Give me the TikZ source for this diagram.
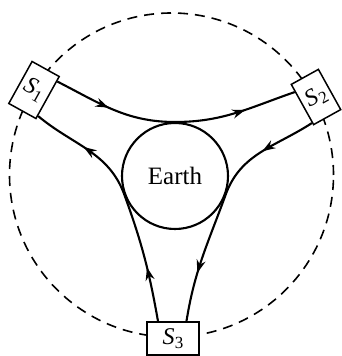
\documentclass[tikz,border=0pt]{standalone}
\usepackage{fontspec}
\setmainfont{Liberation Serif}
\usetikzlibrary{arrows.meta,decorations.markings,calc}
\newcommand\satname[1]{\textit{S}\kern0.3pt\raisebox{-4.5pt}{\fontsize{17}{17}\selectfont #1}}
\begin{document}
\begin{tikzpicture}[x=1pt,y=1pt,
  sbox/.style={draw, line width=1.5pt, fill=white, inner sep=0pt, font=\fontsize{24}{28}\selectfont},
  orbit/.style={line width=2.1pt},
  arrs/.style 2 args={postaction={decorate}, decoration={markings,
     mark=at position #1 with {\arrow{Stealth[length=13pt,width=9pt]}},
     mark=at position #2 with {\arrow{Stealth[length=13pt,width=9pt]}}}},
  guide/.style={line width=1.6pt, dash pattern=on 10pt off 7pt}
]
\useasboundingbox (0,0) rectangle (342,356);
\draw[guide] (171.5,181) circle[radius=162];
\node[draw, circle, minimum size=106pt, inner sep=0pt, line width=2.1pt, font=\fontsize{25}{28}\selectfont] (earth) at (175,180) {Earth};
\node[sbox, minimum width=31pt, minimum height=48pt, rotate=-29] (s1) at (34,266) {\satname{1}};
\node[sbox, minimum width=31pt, minimum height=46pt, rotate=29] (s2) at (316,259) {\satname{2}};
\node[sbox, minimum width=52pt, minimum height=33pt] (s3) at (173,17.5) {\satname{3}};
\coordinate (t1) at ($(earth.center)+(90:54)$);
\coordinate (t2) at ($(earth.center)+(-20:54)$);
\coordinate (t3) at ($(earth.center)+(200:54)$);
\draw[orbit, arrs={0.23}{0.79}] (s1.49) to[out=-27,in=180] (t1) to[out=0,in=-161] (s2.138);
\draw[orbit, arrs={0.23}{0.8}] (s2.-128) to[out=213,in=70] (t2) to[out=250,in=81] (s3.52);
\draw[orbit, arrs={0.22}{0.78}] (s3.131) to[out=100,in=-70] (t3) to[out=110,in=-40] (s1.-52);
\end{tikzpicture}
\end{document}
